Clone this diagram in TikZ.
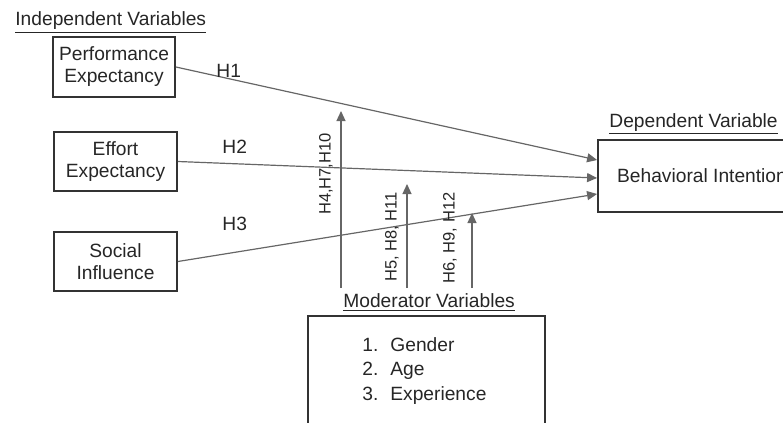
\documentclass[tikz,border=0pt]{standalone}
\usepackage{fontspec}
\setmainfont{Liberation Sans}
\usetikzlibrary{arrows.meta}
\begin{document}
\begin{tikzpicture}[x=0.5pt,y=-0.5pt,
 box/.style={draw=black!80,line width=0.9pt,inner sep=0pt,align=center,font=\fontsize{9.6}{11}\selectfont,text=black!85},
 lbl/.style={font=\fontsize{9.6}{11}\selectfont,text=black!85,inner sep=0pt},
 hyp/.style={font=\fontsize{8.25}{10}\selectfont,text=black!85,inner sep=0pt,rotate=90},
 conn/.style={draw=black!60,line width=0.6pt,-{Triangle[length=5pt,width=4.5pt]}}]
\useasboundingbox (0,0) rectangle (783,423);
\clip (0,0) rectangle (783,423);
% headings
\node[lbl,anchor=base west] (indep) at (15,25.5) {\underline{Independent Variables}};
\node[lbl,anchor=base west] (dep) at (609,127) {\underline{Dependent Variable}};
\node[lbl,anchor=base west] (modlbl) at (343,307) {\underline{Moderator Variables}};
% boxes
\node[box,minimum width=61pt,minimum height=30pt] (pe) at (114,67) {Performance\\Expectancy};
\node[box,minimum width=61.5pt,minimum height=29.5pt] (ee) at (115.5,161.5) {Effort\\Expectancy};
\node[box,minimum width=61.5pt,minimum height=29.5pt] (si) at (115.5,261.5) {Social\\Influence};
\node[box,minimum width=104pt,minimum height=36pt] (bi) at (702,176) {Behavioral Intention};
\node[box,minimum width=118.5pt,minimum height=62pt] (mod) at (426.5,378) {};
\node[lbl,anchor=north west,align=left,font=\fontsize{9.6}{12.25}\selectfont] (list) at (362,337)
 {\makebox[14pt][l]{1.}Gender\\\makebox[14pt][l]{2.}Age\\\makebox[14pt][l]{3.}Experience};
% main paths
\draw[conn] (pe.east) -- ([yshift=8pt]bi.west);
\draw[conn] (ee.east) -- ([yshift=-1pt]bi.west);
\draw[conn] (si.east) -- ([yshift=-9pt]bi.west);
\node[lbl,anchor=base west] (h1) at (216,77) {H1};
\node[lbl,anchor=base west] (h2) at (222,153) {H2};
\node[lbl,anchor=base west] (h3) at (222,230) {H3};
% moderator arrows
\coordinate (m1) at (341,111);
\coordinate (m2) at (407,184);
\coordinate (m3) at (472,213);
\draw[conn] (m1 |- 0,288) -- (m1);
\draw[conn] (m2 |- 0,288) -- (m2);
\draw[conn] (m3 |- 0,288) -- (m3);
\node[hyp] (hm1) at (326,174) {H4,H7,H10};
\node[hyp] (hm2) at (392,237) {H5, H8, H11};
\node[hyp] (hm3) at (450,238) {H6, H9, H12};
\end{tikzpicture}
\end{document}
